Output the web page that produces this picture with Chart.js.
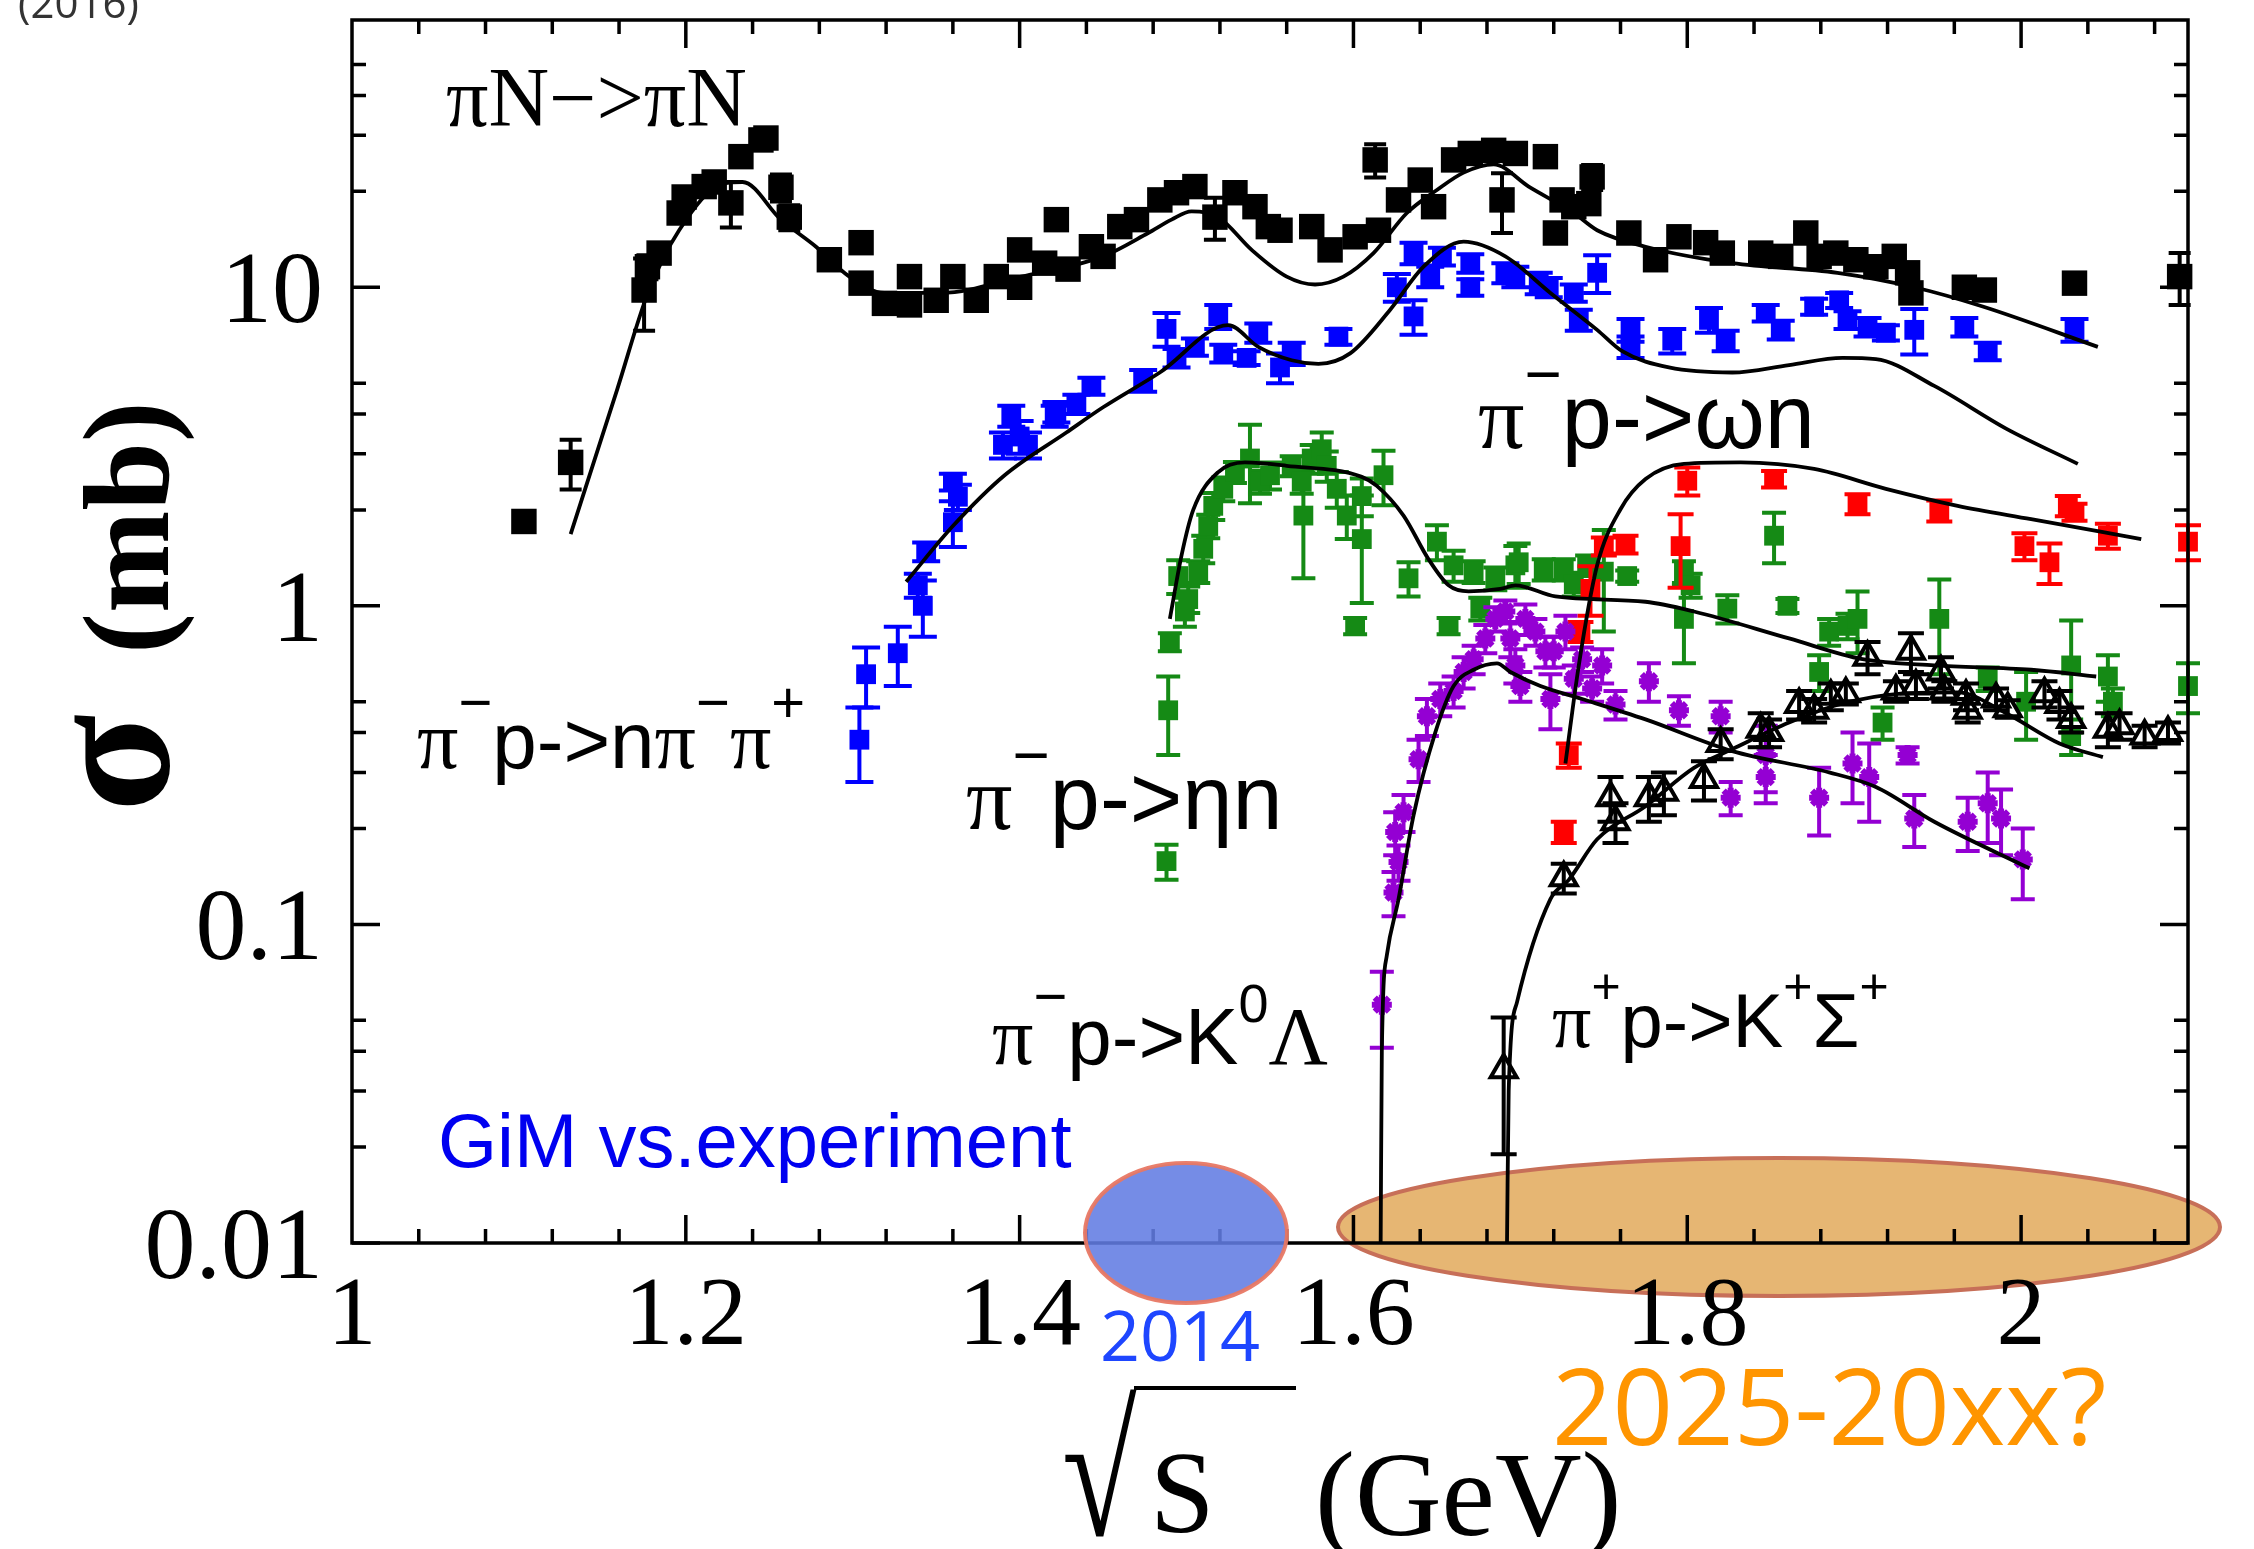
<!DOCTYPE html>
<html>
<head>
<meta charset="utf-8">
<script src="https://cdn.jsdelivr.net/npm/chart.js@4/dist/chart.umd.min.js"></script>
<style>
  html, body { margin: 0; padding: 0; background: #fff; }
  #wrap { width: 2254px; height: 1549px; position: relative; }
</style>
</head>
<body>
<div id="wrap"><canvas id="c"></canvas></div>
<script>
// axis ticks
const xMajor = [1, 1.2, 1.4, 1.6, 1.8, 2];
const yMajor = [0.01, 0.1, 1, 10];
const yMinorMult = [2, 3, 4, 5];

// pi N -> pi N (black squares)
const piN_x = [1.103,1.131,1.175,1.177,1.184,1.196,1.199,1.211,1.217,1.227,1.233,1.245,1.248,1.257,1.262,1.286,1.305,1.305,1.319,1.334,1.334,1.35,1.36,1.374,1.386,1.4,1.4,1.415,1.422,1.429,1.443,1.45,1.46,1.47,1.484,1.494,1.505,1.517,1.529,1.541,1.549,1.556,1.575,1.586,1.601,1.613,1.615,1.627,1.64,1.648,1.66,1.67,1.684,1.689,1.697,1.715,1.721,1.725,1.732,1.741,1.743,1.765,1.781,1.795,1.811,1.821,1.844,1.856,1.871,1.879,1.889,1.901,1.913,1.924,1.932,1.934,1.966,1.978,2.032,2.095];
const piN_y = [1.84,2.82,9.8,11.6,12.8,17.1,19.2,20.7,21.4,18.4,25.7,29,29.4,20.6,16.6,12.2,13.8,10.3,8.9,8.8,10.8,9.1,10.8,9.1,10.8,13.1,10,11.9,16.3,11.4,13.4,12.5,15.5,16.3,18.8,19.8,20.7,16.6,19.8,17.9,15.5,15.1,15.5,13.1,14.4,25.1,15.1,18.8,21.7,17.9,25.1,26.3,26.9,18.8,26.3,25.7,14.8,18.8,17.9,18.3,22.2,14.8,12.2,14.4,13.8,12.8,12.8,12.5,14.8,12.5,12.8,12.2,11.6,12.5,11.1,9.6,10.0,9.8,10.3,10.8];
const piN_err = [0.05,0.5,2.5,1.0,0.6,1.0,0.8,0.8,0.8,3.0,1.5,1.5,1.0,2.0,1.5,0.4,0.5,0.4,0.3,0.3,0.3,0.3,0.3,0.3,0.4,0.4,0.3,0.4,0.5,0.4,0.4,0.4,0.5,0.5,0.6,0.6,0.6,2.5,0.6,0.6,0.5,0.5,0.5,0.5,0.5,3.0,0.5,0.6,0.7,0.6,0.8,0.8,0.8,4.0,1.2,1.0,0.5,0.6,1.0,1.0,2.0,0.5,0.4,0.5,0.5,0.4,0.4,0.4,0.5,0.4,0.4,0.4,0.4,0.4,0.4,0.4,0.4,0.4,0.3,2.0];
const piN_thX = [1.131,1.159,1.177,1.196,1.223,1.234,1.257,1.278,1.298,1.319,1.353,1.401,1.45,1.477,1.491,1.503,1.519,1.539,1.56,1.577,1.594,1.612,1.632,1.65,1.666,1.684,1.705,1.732,1.746,1.775,1.827,1.89,1.936,1.977,2.046];
const piN_thY = [1.68,4.8,9.5,15.1,21.2,21.4,16.3,13.4,10.8,9.6,9.6,10.8,12.5,14.8,16.3,17.3,16.6,13.1,10.8,10.2,10.8,12.8,17.1,20.2,22.9,24.3,20.7,17.1,15.1,13.4,11.9,11.1,10,8.7,6.5];

// pi- p -> n pi- pi+ (blue squares)
const twoPi_x = [1.304,1.308,1.327,1.339,1.342,1.344,1.36,1.363,1.36,1.39,1.395,1.4,1.405,1.421,1.422,1.434,1.443,1.474,1.488,1.494,1.505,1.519,1.522,1.536,1.543,1.556,1.563,1.591,1.626,1.636,1.636,1.646,1.653,1.67,1.67,1.691,1.697,1.711,1.717,1.732,1.735,1.746,1.766,1.766,1.791,1.813,1.823,1.847,1.856,1.876,1.891,1.896,1.908,1.919,1.936,1.966,1.98,2.032];
const twoPi_y = [0.38,0.61,0.71,1.16,1.0,1.48,1.83,2.2,2.45,3.2,3.95,3.4,3.2,3.95,4.06,4.3,4.9,5.1,7.4,6.0,6.5,8.1,6.2,6.0,7.2,5.6,6.2,7.0,10,8.1,12.8,10.8,12.5,11.9,10,11.1,10.8,10.3,10,9.6,7.9,11.1,7.35,6.5,6.8,7.9,6.8,8.3,7.35,8.7,9.1,7.9,7.5,7.2,7.35,7.5,6.3,7.35];
const twoPi_err = [0.1,0.13,0.15,0.1,0.2,0.1,0.3,0.2,0.15,0.3,0.3,0.4,0.3,0.3,0.3,0.3,0.3,0.4,0.9,0.4,0.4,0.7,0.4,0.3,0.5,0.6,0.5,0.4,1.0,1.0,1.0,0.8,0.8,0.8,0.6,0.8,0.8,0.8,0.7,0.6,0.6,1.5,0.6,0.5,0.6,0.7,0.5,0.5,0.5,0.5,0.5,0.5,0.5,0.4,1.2,0.5,0.4,0.6];
const twoPi_thX = [1.332,1.36,1.391,1.428,1.45,1.484,1.525,1.543,1.563,1.579,1.598,1.622,1.642,1.666,1.691,1.718,1.746,1.761,1.789,1.827,1.861,1.893,1.913,1.948,1.991,2.034];
const twoPi_thY = [1.19,1.78,2.57,3.5,4.2,5.4,7.6,6.5,5.9,5.75,6.2,8.5,11.6,13.9,12.5,9.6,7.35,6.3,5.6,5.4,5.7,6.0,5.95,4.9,3.6,2.79];

// pi- p -> eta n (green squares)
const eta_x = [1.488,1.489,1.49,1.495,1.499,1.501,1.507,1.51,1.513,1.516,1.522,1.529,1.538,1.544,1.55,1.563,1.569,1.57,1.575,1.581,1.584,1.59,1.596,1.601,1.605,1.605,1.618,1.633,1.65,1.657,1.66,1.672,1.676,1.685,1.697,1.699,1.714,1.726,1.732,1.74,1.75,1.764,1.798,1.802,1.798,1.824,1.852,1.86,1.879,1.885,1.896,1.902,1.917,1.951,1.98,2.003,2.03,2.03,2.052,2.055,2.1];
const eta_y = [0.158,0.47,0.77,1.24,0.96,1.05,1.28,1.51,1.78,2.06,2.33,2.63,2.9,2.45,2.57,2.75,2.45,1.92,2.9,3.1,2.75,2.33,1.92,0.865,2.21,1.62,2.57,1.22,1.59,0.865,1.34,1.28,0.98,1.22,1.34,1.37,1.3,1.3,1.17,1.34,1.28,1.24,1.28,1.16,0.91,0.98,1.66,1.0,0.62,0.83,0.865,0.91,0.43,0.91,0.59,0.5,0.65,0.39,0.6,0.5,0.56];
const eta_err = [0.02,0.13,0.05,0.15,0.1,0.1,0.1,0.15,0.15,0.2,0.2,0.2,0.8,0.2,0.25,0.2,0.2,0.7,0.3,0.4,0.3,0.3,0.3,0.05,0.3,0.6,0.5,0.15,0.2,0.05,0.15,0.1,0.08,0.1,0.2,0.2,0.1,0.1,0.1,0.1,0.45,0.05,0.1,0.1,0.25,0.1,0.3,0.05,0.08,0.08,0.08,0.2,0.05,0.3,0.05,0.12,0.25,0.05,0.1,0.05,0.1];
const eta_thX = [1.49,1.497,1.504,1.519,1.535,1.56,1.605,1.614,1.63,1.645,1.657,1.669,1.688,1.697,1.721,1.775,1.804,1.861,1.905,1.948,2.006,2.045];
const eta_thY = [0.91,1.44,2.0,2.63,2.82,2.75,2.54,2.38,1.92,1.4,1.16,1.11,1.13,1.16,1.07,1.03,0.96,0.79,0.68,0.65,0.63,0.6];

// pi- p -> omega n (red squares)
const omega_x = [1.726,1.729,1.736,1.742,1.75,1.763,1.796,1.8,1.852,1.902,1.951,2.002,2.017,2.028,2.032,2.052,2.1];
const omega_y = [0.195,0.34,0.83,1.13,1.54,1.56,1.54,2.47,2.5,2.09,1.99,1.54,1.37,2.06,1.97,1.66,1.59];
const omega_err = [0.015,0.03,0.06,0.2,0.1,0.1,0.4,0.25,0.15,0.15,0.15,0.15,0.2,0.15,0.12,0.15,0.2];
const omega_thX = [1.727,1.735,1.746,1.76,1.775,1.798,1.832,1.876,1.919,1.962,2.006,2.072];
const omega_thY = [0.32,0.65,1.34,2.01,2.5,2.79,2.82,2.69,2.33,2.06,1.87,1.62];

// pi- p -> K0 Lambda (purple)
const kLam_x = [1.617,1.624,1.627,1.625,1.63,1.639,1.644,1.652,1.66,1.666,1.672,1.679,1.685,1.691,1.694,1.697,1.7,1.703,1.709,1.715,1.718,1.72,1.727,1.732,1.737,1.743,1.749,1.757,1.777,1.795,1.82,1.826,1.847,1.847,1.879,1.899,1.909,1.932,1.936,1.968,1.98,1.988,2.001];
const kLam_y = [0.056,0.126,0.157,0.195,0.225,0.33,0.45,0.51,0.54,0.62,0.68,0.79,0.91,0.96,0.79,0.65,0.56,0.91,0.83,0.72,0.51,0.72,0.83,0.59,0.68,0.55,0.65,0.49,0.58,0.47,0.45,0.25,0.34,0.29,0.25,0.32,0.29,0.34,0.215,0.21,0.24,0.215,0.16];
const kLam_err = [0.015,0.02,0.02,0.03,0.03,0.05,0.06,0.06,0.06,0.07,0.07,0.08,0.08,0.08,0.1,0.08,0.06,0.1,0.08,0.08,0.1,0.08,0.1,0.06,0.06,0.05,0.08,0.05,0.08,0.05,0.05,0.03,0.08,0.05,0.06,0.08,0.08,0.02,0.04,0.04,0.06,0.05,0.04];
const kLam_thX = [1.6163,1.617,1.62,1.627,1.636,1.649,1.66,1.672,1.686,1.694,1.712,1.737,1.775,1.827,1.885,1.913,1.948,2.005];
const kLam_thY = [0.01,0.04,0.08,0.12,0.22,0.4,0.56,0.63,0.66,0.62,0.56,0.51,0.44,0.35,0.3,0.27,0.21,0.15];

// pi+ p -> K+ Sigma+ (open triangles)
const kSig_x = [1.69,1.726,1.754,1.757,1.777,1.786,1.81,1.82,1.844,1.849,1.867,1.876,1.886,1.895,1.908,1.925,1.934,1.937,1.952,1.954,1.967,1.968,1.985,1.992,2.014,2.023,2.03,2.052,2.059,2.074,2.088];
const kSig_y = [0.035,0.14,0.25,0.21,0.25,0.26,0.285,0.37,0.41,0.40,0.49,0.47,0.52,0.53,0.69,0.54,0.72,0.56,0.62,0.54,0.52,0.47,0.51,0.475,0.53,0.49,0.44,0.41,0.42,0.39,0.40];
const kSig_err = [0.016,0.015,0.04,0.03,0.04,0.04,0.04,0.04,0.05,0.04,0.05,0.04,0.05,0.04,0.08,0.04,0.1,0.05,0.07,0.04,0.05,0.04,0.04,0.03,0.05,0.05,0.04,0.05,0.04,0.03,0.03];
const kSig_thX = [1.692,1.693,1.698,1.718,1.729,1.746,1.775,1.804,1.827,1.861,1.891,1.928,1.962,1.991,2.023,2.049];
const kSig_thY = [0.01,0.03,0.057,0.12,0.138,0.185,0.235,0.31,0.355,0.43,0.49,0.53,0.535,0.46,0.37,0.335];

const pts = (xs, ys) => xs.map((x, i) => ({ x: x, y: ys[i] }));

function curve(label, xs, ys) {
  return {
    type: 'line', label: label, data: pts(xs, ys),
    borderColor: '#000', borderWidth: 3.8, pointRadius: 0, fill: false,
    cubicInterpolationMode: 'monotone', order: 0
  };
}

function marks(label, xs, ys, errs, color, style, r, cap, order) {
  return {
    type: 'scatter', label: label, data: pts(xs, ys), errors: errs,
    errColor: color, cap: cap, pointStyle: style, pointRadius: r,
    backgroundColor: color, borderColor: color, borderWidth: 0,
    clip: false, order: order
  };
}

const triangles = marks('K+Sigma+ data', kSig_x, kSig_y, kSig_err, '#000', 'triangle', 15, 13, 1);
triangles.backgroundColor = 'rgba(255,255,255,0)';
triangles.borderWidth = 4;

const purple = marks('K0 Lambda data', kLam_x, kLam_y, kLam_err, '#9400d3', 'star', 10, 12, 2);
purple.borderWidth = 6;

// error bars, drawn just before each marker set
const errorBars = {
  id: 'errorBars',
  beforeDatasetDraw(chart, args) {
    const ds = chart.data.datasets[args.index];
    if (!ds.errors) return;
    const sx = chart.scales.x, sy = chart.scales.y, ctx = chart.ctx;
    ctx.save();
    ctx.strokeStyle = ds.errColor;
    ctx.lineWidth = 4;
    ds.data.forEach((p, i) => {
      const e = ds.errors[i];
      const px = sx.getPixelForValue(p.x);
      const lo = sy.getPixelForValue(Math.max(p.y - e, 0.0102));
      const hi = sy.getPixelForValue(p.y + e);
      ctx.beginPath();
      ctx.moveTo(px, lo); ctx.lineTo(px, hi);
      ctx.moveTo(px - ds.cap, lo); ctx.lineTo(px + ds.cap, lo);
      ctx.moveTo(px - ds.cap, hi); ctx.lineTo(px + ds.cap, hi);
      ctx.stroke();
    });
    ctx.restore();
  }
};

function rich(ctx, x, y, parts) {
  let cx = x;
  parts.forEach(([t, font, dy]) => {
    ctx.font = font;
    ctx.fillText(t, cx, y + (dy || 0));
    cx += ctx.measureText(t).width;
  });
}

const SERIF = '"Liberation Serif", "DejaVu Serif", serif';
const SANS = '"Liberation Sans", Arial, sans-serif';

const frame = {
  id: 'frame',
  beforeDatasetsDraw(chart) {
    const ctx = chart.ctx;
    // future-run region
    ctx.save();
    ctx.beginPath();
    ctx.ellipse(1779, 1227, 441, 69, 0, 0, Math.PI * 2);
    ctx.fillStyle = '#e6b673';
    ctx.fill();
    ctx.lineWidth = 4;
    ctx.strokeStyle = '#c76f58';
    ctx.stroke();
    ctx.restore();
  },
  afterDraw(chart) {
    const ctx = chart.ctx;
    const sx = chart.scales.x, sy = chart.scales.y;
    const { left, right, top, bottom } = chart.chartArea;
    ctx.save();
    ctx.strokeStyle = '#000';
    ctx.lineWidth = 3.5;
    ctx.strokeRect(left, top, right - left, bottom - top);

    // x ticks, every 0.04
    ctx.beginPath();
    for (let k = 1; k <= 27; k++) {
      const v = 1 + k * 0.04;
      const px = sx.getPixelForValue(v);
      const major = xMajor.some(m => Math.abs(m - v) < 1e-6);
      const len = major ? 28 : 14;
      ctx.moveTo(px, bottom); ctx.lineTo(px, bottom - len);
      ctx.moveTo(px, top); ctx.lineTo(px, top + len);
    }
    // y ticks
    yMajor.forEach(b => {
      const vals = [[b, 28]].concat(yMinorMult.map(m => [b * m, 14]));
      vals.forEach(([v, len]) => {
        if (v > sy.max) return;
        const py = sy.getPixelForValue(v);
        ctx.moveTo(left, py); ctx.lineTo(left + len, py);
        ctx.moveTo(right, py); ctx.lineTo(right - len, py);
      });
    });
    ctx.stroke();

    // tick labels
    ctx.fillStyle = '#000';
    ctx.font = '98px ' + SERIF;
    ctx.textAlign = 'center';
    ctx.textBaseline = 'alphabetic';
    xMajor.forEach(v => ctx.fillText(String(v), sx.getPixelForValue(v), 1344));
    ctx.font = '102px ' + SERIF;
    ctx.textAlign = 'right';
    yMajor.forEach(v => ctx.fillText(String(v), 323, sy.getPixelForValue(v) + 35));

    // y title
    ctx.save();
    ctx.translate(168, 812);
    ctx.rotate(-Math.PI / 2);
    ctx.textAlign = 'left';
    ctx.font = 'bold 180px ' + SERIF;
    ctx.fillText('σ', 0, 0);
    ctx.font = 'bold 123px ' + SERIF;
    ctx.fillText('(mb)', 158, 0);
    ctx.restore();

    // x title: tall radical with bar over S
    ctx.textAlign = 'left';
    ctx.save();
    ctx.translate(1062, 1535);
    ctx.scale(0.85, 1.15);
    ctx.font = '160px ' + SERIF;
    ctx.fillText('√', 0, 0);
    ctx.restore();
    ctx.fillRect(1134, 1386, 162, 4);
    ctx.font = '116px ' + SERIF;
    ctx.fillText('S', 1150, 1532);
    ctx.font = '120px ' + SERIF;
    ctx.fillText('(GeV)', 1315, 1535);

    // reaction labels
    const sup = '58px ' + SANS;
    rich(ctx, 446, 126, [['πN−>πN', '84px ' + SERIF]]);
    rich(ctx, 417, 768, [['π', '82px ' + SERIF], ['−', sup, -46], ['p->n', '80px ' + SANS], ['π', '82px ' + SERIF], ['−', sup, -46], ['π', '82px ' + SERIF], ['+', sup, -46]]);
    rich(ctx, 966, 829, [['π', '92px ' + SERIF], ['−', '64px ' + SANS, -52], ['p->ηn', '90px ' + SANS]]);
    rich(ctx, 1478, 448, [['π', '92px ' + SERIF], ['−', '64px ' + SANS, -52], ['p->ωn', '90px ' + SANS]]);
    rich(ctx, 992, 1064, [['π', '82px ' + SERIF], ['−', sup, -48], ['p->K', '80px ' + SANS], ['0', '54px ' + SANS, -42], ['Λ', '82px ' + SERIF]]);
    rich(ctx, 1552, 1047, [['π', '78px ' + SERIF], ['+', '50px ' + SANS, -44], ['p->K', '76px ' + SANS], ['+', '50px ' + SANS, -44], ['Σ', '76px ' + SANS], ['+', '50px ' + SANS, -44]]);

    // slide annotations
    ctx.fillStyle = '#0000f0';
    ctx.font = '76px ' + SANS;
    ctx.fillText('GiM vs.experiment', 438, 1167);

    ctx.beginPath();
    ctx.ellipse(1186, 1233, 101, 70, 0, 0, Math.PI * 2);
    ctx.fillStyle = 'rgba(98,124,226,0.88)';
    ctx.fill();
    ctx.lineWidth = 4;
    ctx.strokeStyle = 'rgba(232,120,100,0.95)';
    ctx.stroke();

    ctx.fillStyle = '#1e46ff';
    ctx.font = '70px "Open Sans", sans-serif';
    ctx.fillText('2014', 1100, 1361);
    ctx.fillStyle = '#ff9500';
    ctx.font = '106px "Open Sans", sans-serif';
    ctx.fillText('2025-20xx?', 1552, 1445);
    ctx.fillStyle = '#333';
    ctx.font = '42px "Open Sans", sans-serif';
    ctx.fillText('(2016)', 18, 18);
    ctx.restore();
  }
};

new Chart(document.getElementById('c'), {
  type: 'scatter',
  data: {
    datasets: [
      curve('piN model', piN_thX, piN_thY),
      curve('2pi model', twoPi_thX, twoPi_thY),
      curve('eta n model', eta_thX, eta_thY),
      curve('omega n model', omega_thX, omega_thY),
      curve('K0 Lambda model', kLam_thX, kLam_thY),
      curve('K+ Sigma+ model', kSig_thX, kSig_thY),
      triangles,
      purple,
      marks('omega n data', omega_x, omega_y, omega_err, '#ff0000', 'rect', 14, 13, 3),
      marks('eta n data', eta_x, eta_y, eta_err, '#158a15', 'rect', 14, 12, 4),
      marks('n pi pi data', twoPi_x, twoPi_y, twoPi_err, '#0000ff', 'rect', 14, 14, 5),
      marks('pi N data', piN_x, piN_y, piN_err, '#000', 'rect', 18, 11, 6)
    ]
  },
  options: {
    responsive: true,
    maintainAspectRatio: false,
    devicePixelRatio: 1,
    animation: false,
    layout: { padding: { left: 352, right: 66, top: 20, bottom: 306 } },
    scales: {
      x: { type: 'linear', min: 1, max: 2.1, display: false },
      y: { type: 'logarithmic', min: 0.01, max: 69, display: false }
    },
    plugins: { legend: { display: false }, tooltip: { enabled: false } }
  },
  plugins: [errorBars, frame]
});
</script>
</body>
</html>
